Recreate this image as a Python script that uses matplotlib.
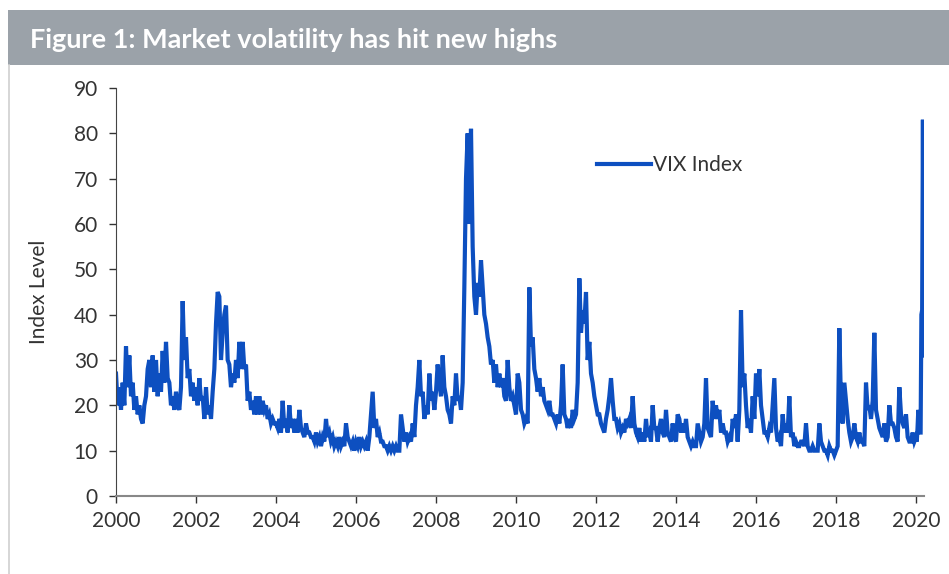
import numpy as np
import matplotlib
matplotlib.use('Agg')
import matplotlib.pyplot as plt
from matplotlib.patches import Rectangle
from matplotlib.lines import Line2D

plt.rcParams['font.family'] = ['Lato', 'DejaVu Sans']

title = "Figure 1: Market volatility has hit new highs"
series_name = "VIX Index"
y_label = "Index Level"
x_ticks = [2000, 2002, 2004, 2006, 2008, 2010, 2012, 2014, 2016, 2018, 2020]
y_ticks = [0, 10, 20, 30, 40, 50, 60, 70, 80, 90]

# two readings per month, Jan..Dec
vix_2000 = [27, 20, 24, 19, 25, 20, 33, 24, 31, 22, 25, 19, 22, 18, 20, 17, 16, 20, 22, 28, 30, 24, 31, 23]
vix_2001 = [30, 22, 27, 23, 32, 25, 34, 26, 25, 20, 22, 19, 23, 20, 19, 24, 43, 30, 35, 26, 28, 22, 25, 21]
vix_2002 = [24, 20, 26, 21, 22, 17, 24, 18, 20, 17, 23, 28, 38, 45, 44, 30, 36, 40, 42, 30, 29, 24, 27, 25]
vix_2003 = [30, 26, 34, 28, 34, 28, 29, 21, 23, 19, 21, 18, 22, 18, 22, 18, 21, 19, 20, 17, 18, 16, 17, 16]
vix_2004 = [16, 15, 17, 14, 21, 15, 17, 14, 20, 15, 17, 14, 17, 14, 19, 15, 14, 13, 16, 14, 14, 13, 13, 12]
vix_2005 = [14, 12, 13, 11, 13, 12, 17, 13, 14, 12, 13, 11, 12, 11, 13, 11, 12, 11, 16, 13, 12, 11, 12, 10]
vix_2006 = [12, 11, 13, 11, 12, 11, 12, 10, 13, 18, 23, 15, 17, 13, 14, 12, 12, 11, 11, 10, 11, 10, 11, 10]
vix_2007 = [11, 10, 10, 18, 15, 12, 14, 12, 13, 12, 16, 13, 20, 24, 30, 22, 23, 17, 20, 18, 27, 21, 23, 19]
vix_2008 = [23, 29, 25, 22, 31, 24, 22, 19, 18, 16, 22, 20, 27, 21, 22, 19, 25, 46, 70, 80, 60, 81, 55, 44]
vix_2009 = [40, 47, 44, 52, 46, 40, 38, 35, 33, 29, 30, 25, 29, 24, 27, 24, 26, 22, 21, 30, 24, 21, 22, 20]
vix_2010 = [18, 27, 25, 19, 18, 16, 17, 16, 46, 33, 35, 28, 26, 23, 26, 22, 24, 21, 20, 19, 21, 18, 18, 17]
vix_2011 = [16, 18, 16, 20, 29, 18, 17, 15, 17, 15, 19, 17, 18, 25, 48, 36, 41, 38, 45, 30, 34, 27, 25, 22]
vix_2012 = [20, 18, 18, 16, 15, 14, 17, 19, 22, 26, 21, 17, 17, 15, 16, 14, 15, 14, 17, 16, 17, 15, 22, 16]
vix_2013 = [14, 13, 15, 12, 14, 12, 17, 13, 14, 12, 20, 15, 15, 12, 15, 17, 14, 13, 19, 14, 13, 12, 16, 13]
vix_2014 = [12, 18, 17, 14, 16, 14, 17, 13, 12, 11, 12, 11, 11, 16, 14, 12, 13, 16, 26, 15, 14, 13, 21, 17]
vix_2015 = [20, 17, 19, 14, 16, 14, 14, 12, 13, 12, 17, 15, 18, 12, 19, 41, 24, 27, 20, 15, 17, 14, 22, 17]
vix_2016 = [27, 22, 28, 20, 17, 14, 14, 13, 15, 14, 20, 26, 15, 12, 13, 11, 18, 14, 16, 14, 22, 13, 14, 11]
vix_2017 = [12, 11, 11, 12, 12, 11, 16, 11, 10, 10, 11, 10, 10, 10, 16, 12, 11, 10, 10, 9, 11, 10, 10, 9]
vix_2018 = [10, 11, 37, 20, 16, 25, 21, 17, 14, 12, 13, 16, 13, 12, 14, 12, 12, 11, 25, 19, 20, 17, 21, 36]
vix_2019 = [19, 17, 15, 14, 13, 16, 12, 13, 20, 16, 16, 15, 13, 12, 24, 18, 16, 15, 18, 13, 12, 12, 14, 12]
# 2020 is weekly, Jan to mid-March
vix_2020 = [13, 12, 15, 19, 17, 14, 14, 40, 41, 83, 31]

years = list(range(2000, 2020))
yearly = [vix_2000, vix_2001, vix_2002, vix_2003, vix_2004, vix_2005, vix_2006,
          vix_2007, vix_2008, vix_2009, vix_2010, vix_2011, vix_2012, vix_2013,
          vix_2014, vix_2015, vix_2016, vix_2017, vix_2018, vix_2019]

dates = []
values = []
for yr, vals in zip(years, yearly):
    for k, v in enumerate(vals):
        dates.append(yr + k / 24)
        values.append(v)
for k, v in enumerate(vix_2020):
    dates.append(2020 + k / 52)
    values.append(v)

line_col = '#0d4fc0'
text_col = '#333333'

fig = plt.figure(figsize=(9.49, 5.74), dpi=100)
fig.patch.set_facecolor('white')

# header band
fig.patches.append(Rectangle((8 / 949, 1 - 65 / 574), 1, 55 / 574, transform=fig.transFigure,
                             facecolor='#9ba2a9', edgecolor='none'))
fig.text(30 / 949, 1 - 40 / 574, title, color='white', fontsize=19.5, fontweight='bold',
         va='center', ha='left')
# left frame line
fig.lines.append(Line2D([8.5 / 949, 8.5 / 949], [0, 1 - 65 / 574], transform=fig.transFigure,
                        color='#d0d0d0', lw=1.2))

ax = fig.add_axes([116 / 949, 78 / 574, 808 / 949, 408 / 574])
ax.plot(dates, values, color=line_col, lw=3, label=series_name, solid_joinstyle='miter')

ax.set_xlim(2000, 2020.2)
ax.set_ylim(0, 90)
ax.set_xticks(x_ticks)
ax.set_yticks(y_ticks)
ax.tick_params(axis='both', labelsize=15, colors=text_col, length=5, width=1, direction='out')
ax.tick_params(axis='x', pad=6)
ax.tick_params(axis='y', pad=8)
for lab in ax.get_xticklabels() + ax.get_yticklabels():
    lab.set_color(text_col)
ax.spines['top'].set_visible(False)
ax.spines['right'].set_visible(False)
ax.spines['left'].set_color('#444444')
ax.spines['bottom'].set_color('#888888')
ax.spines['bottom'].set_linewidth(1.5)
ax.set_ylabel(y_label, fontsize=15, color=text_col, labelpad=18)

ax.legend(loc='center left', bbox_to_anchor=(0.585, 0.811), frameon=False, fontsize=15,
          handlelength=2.6, handletextpad=0.1, labelcolor=text_col, borderaxespad=0)

fig.savefig('out.png', dpi=100)
